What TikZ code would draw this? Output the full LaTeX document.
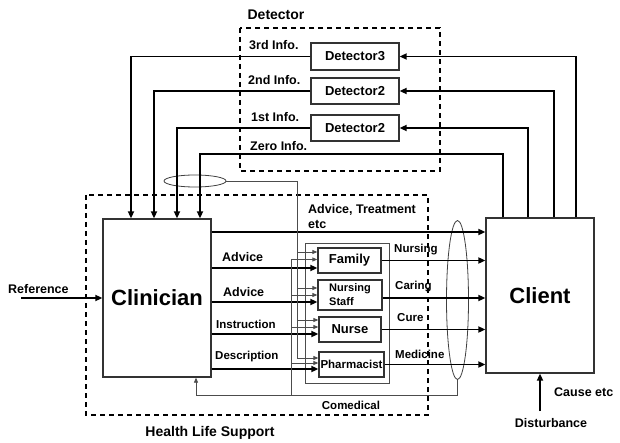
\documentclass[tikz,border=0pt]{standalone}
\usepackage{fontspec}
\setmainfont{Liberation Sans}
\usetikzlibrary{arrows.meta,shapes.geometric}
\begin{document}
\begin{tikzpicture}[x=1pt,y=-1pt,
  box/.style={draw=black!80, line width=1.3pt, inner sep=0pt, font=\bfseries\fontsize{13}{15}\selectfont},
  bigbox/.style={box, font=\bfseries\fontsize{22}{26}\selectfont},
  thickline/.style={line width=1.8pt},
  thinline/.style={line width=0.8pt, draw=black!70},
  arr/.style={-{Triangle[length=7pt,width=6pt]}},
  sarr/.style={-{Triangle[length=5pt,width=4pt]}},
  dashbox/.style={draw, line width=1.7pt, dash pattern=on 5pt off 4pt},
  lbl/.style={inner sep=0pt, font=\bfseries\fontsize{12.5}{14}\selectfont},
  slbl/.style={inner sep=0pt, font=\bfseries\fontsize{11.5}{13}\selectfont},
  ttl/.style={inner sep=0pt, font=\bfseries\fontsize{14}{16}\selectfont},
]
\useasboundingbox (0,0) rectangle (620,443);

% group outlines
\draw[dashbox] (240,28) rectangle (440,171);
\draw[dashbox] (86,195) rectangle (428,415);
\draw[thinline] (305,243) rectangle (389,383);

% main blocks
\node[bigbox, minimum width=108pt, minimum height=158pt] (clin) at (157,298) {Clinician};
\node[bigbox, minimum width=108pt, minimum height=155pt] (cl) at (540,295.5) {Client};

% detectors
\node[box, minimum width=88pt, minimum height=27pt] (d3) at (355,56.5) {Detector3};
\node[box, minimum width=88pt, minimum height=26pt] (d2) at (355,91) {Detector2};
\node[box, minimum width=88pt, minimum height=26pt] (d1) at (355,128) {Detector2};

% care givers
\node[box, minimum width=63pt, minimum height=25pt] (fam) at (349.5,260.5) {Family};
\node[box, minimum width=64pt, minimum height=30pt, align=left,
      font=\bfseries\fontsize{11}{14}\selectfont] (ns) at (350,295) {Nursing\\Staff};
\node[box, minimum width=62pt, minimum height=25pt] (nu) at (350,329.5) {Nurse};
\node[box, minimum width=65pt, minimum height=25pt,
      font=\bfseries\fontsize{11.5}{13}\selectfont] (ph) at (351.5,364.5) {Pharmacist};

% grouping ellipses
\node[draw=black!75, line width=0.8pt, ellipse, minimum width=62pt, minimum height=12pt, inner sep=0pt] (ell) at (195,181) {};
\node[draw=black!75, line width=0.8pt, ellipse, minimum width=22pt, minimum height=159pt, inner sep=0pt] (big) at (457.5,300) {};

% information feedback loops
\draw[thickline, arr] ([xshift=36pt]cl.north) |- (d3.east);
\draw[thickline, arr] ([xshift=14pt]cl.north) |- (d2.east);
\draw[thickline, arr] ([xshift=-12pt]cl.north) |- (d1.east);
\draw[thickline, arr] (d3.west) -| ([xshift=-26pt]clin.north);
\draw[thickline, arr] (d2.west) -| ([xshift=-3pt]clin.north);
\draw[thickline, arr] (d1.west) -| ([xshift=20pt]clin.north);
\draw[thickline, arr] ([xshift=-37pt]cl.north) -- ++(0,-63) -| ([xshift=43pt]clin.north);

% direct advice / treatment
\coordinate (top) at (0,232);
\draw[thickline, arr] (clin.east |- top) -- (cl.west |- top);

% clinician orders to care givers
\draw[thickline, arr] ([yshift=-7.5pt]fam.west -| clin.east) -- ([yshift=-7.5pt]fam.west);
\draw[thickline, arr] ([yshift=-7pt]ns.west -| clin.east) -- ([yshift=-7pt]ns.west);
\draw[thickline, arr] ([yshift=-4.5pt]nu.west -| clin.east) -- ([yshift=-4.5pt]nu.west);
\draw[thickline, arr] ([yshift=-4.5pt]ph.west -| clin.east) -- ([yshift=-4.5pt]ph.west);

% information bus from the detectors
\coordinate (busa) at (297,0);
\draw[thinline, sarr] (ell.east) -| ([yshift=6.5pt]ph.west -| busa) -- ([yshift=6.5pt]ph.west);
\draw[thinline, sarr] ([yshift=8.5pt]fam.west -| busa) -- ([yshift=8.5pt]fam.west);
\draw[thinline, sarr] ([yshift=7pt]ns.west -| busa) -- ([yshift=7pt]ns.west);
\draw[thinline, sarr] ([yshift=9.5pt]nu.west -| busa) -- ([yshift=9.5pt]nu.west);

% comedical feedback
\coordinate (busb) at (291,395);
\draw[thinline, sarr] (big.south) -- ++(0,15) -| ([xshift=39pt]clin.south);
\draw[thinline] (busb) -- ([yshift=1pt]fam.west -| busb);
\draw[thinline, sarr] ([yshift=1pt]fam.west -| busb) -- ([yshift=1pt]fam.west);
\draw[thinline, sarr] (ns.west -| busb) -- (ns.west);
\draw[thinline, sarr] ([yshift=2.5pt]nu.west -| busb) -- ([yshift=2.5pt]nu.west);
\draw[thinline, sarr] ([yshift=1.5pt]ph.west -| busb) -- ([yshift=1.5pt]ph.west);

% care delivered to the client
\draw[thickline, arr] (fam.east) -- (fam.east -| cl.west);
\draw[thickline, arr] ([yshift=-3pt]ns.east) -- ([yshift=-3pt]ns.east -| cl.west);
\draw[thickline, arr] (nu.east) -- (nu.east -| cl.west);
\draw[thickline, arr] (ph.east) -- (ph.east -| cl.west);

% external inputs
\coordinate (ref) at (21,298);
\draw[thickline, arr] (ref) -- (clin.west);
\coordinate (dist) at (540,411);
\draw[thickline, arr] (dist) -- (cl.south);

% labels
\node[ttl] (tdet) at (276,15) {Detector};
\node[ttl] (thls) at (210,433) {Health Life Support};
\node[lbl, anchor=west] (l3) at (249,45) {3rd Info.};
\node[lbl, anchor=west] (l2) at (248,80) {2nd Info.};
\node[lbl, anchor=west] (l1) at (251,117) {1st Info.};
\node[lbl, anchor=west] (l0) at (250,146) {Zero Info.};
\node[lbl, anchor=west] (lat) at (308,210) {Advice, Treatment};
\node[lbl, anchor=west] (letc) at (308,224) {etc};
\node[lbl, anchor=west] (la1) at (222,257) {Advice};
\node[lbl, anchor=west] (la2) at (223,292) {Advice};
\node[slbl, anchor=west] (lin) at (216,324) {Instruction};
\node[slbl, anchor=west] (lde) at (215,357) {Description};
\node[slbl, anchor=west] (lnu) at (394,250) {Nursing};
\node[slbl, anchor=west] (lca) at (395,287) {Caring};
\node[slbl, anchor=west] (lcu) at (397,318) {Cure};
\node[slbl, anchor=west] (lme) at (395,354) {Medicine};
\node[slbl] (lco) at (351,405) {Comedical};
\node[lbl, anchor=west] (lref) at (8,289) {Reference};
\node[lbl, anchor=west] (lca2) at (554,392) {Cause etc};
\node[lbl] (ldis) at (551,423) {Disturbance};
\end{tikzpicture}
\end{document}
